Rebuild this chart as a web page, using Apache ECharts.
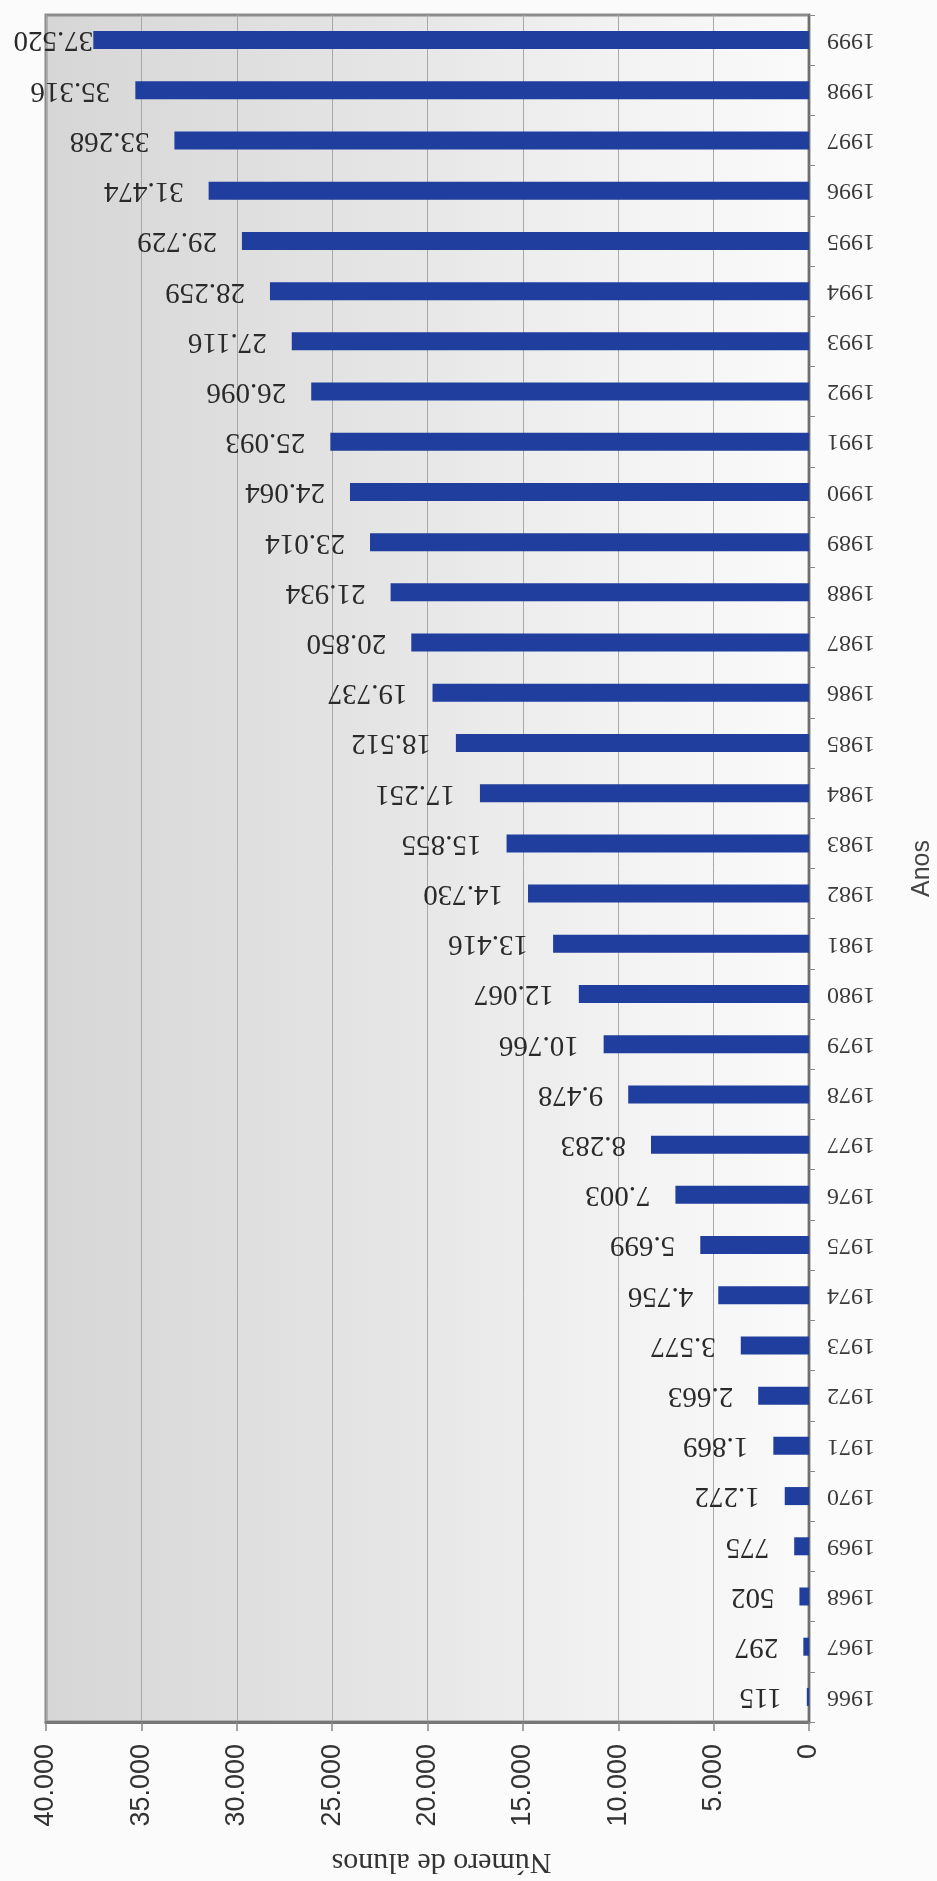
<!DOCTYPE html>
<html>
<head>
<meta charset="utf-8">
<script src="https://cdn.jsdelivr.net/npm/echarts@6/dist/echarts.min.js"></script>
<style>
html,body{margin:0;padding:0;background:#fbfbfb;}
#c{width:937px;height:1881px;}
</style>
</head>
<body>
<div id="c"></div>
<script>
const years = ['1966','1967','1968','1969','1970','1971','1972','1973','1974','1975','1976','1977','1978','1979','1980','1981','1982','1983','1984','1985','1986','1987','1988','1989','1990','1991','1992','1993','1994','1995','1996','1997','1998','1999'];
const alunos = [115,297,502,775,1272,1869,2663,3577,4756,5699,7003,8283,9478,10766,12067,13416,14730,15855,17251,18512,19737,20850,21934,23014,24064,25093,26096,27116,28259,29729,31474,33268,35316,37520];
const valueMin = 0, valueMax = 40000, valueStep = 5000;
const valueAxisTitle = 'Número de alunos';
const categoryAxisTitle = 'Anos';

function fmt(v){ return String(v).replace(/\B(?=(\d{3})+(?!\d))/g, '.'); }

const maxVal = Math.max(...alunos);
// the largest value's label is pulled against its bar so it stays on the page
const barData = alunos.map(v => v === maxVal ? {value: v, label: {distance: 0}} : v);

const chart = echarts.init(document.getElementById('c'), null, {renderer:'canvas'});
chart.setOption({
  animation:false,
  backgroundColor:'#fbfbfb',
  grid:{
    left:46, right:128, top:15, bottom:159,
    outerBoundsMode:'none',
    containLabel:false,
    show:true,
    borderColor:'#8c8c8c', borderWidth:3,
    backgroundColor:new echarts.graphic.LinearGradient(0,0,1,0,[
      {offset:0,color:'#d6d6d6'},
      {offset:0.45,color:'#e5e5e5'},
      {offset:0.75,color:'#f2f2f2'},
      {offset:1,color:'#fafafa'}
    ])
  },
  xAxis:{
    type:'value', inverse:true, position:'bottom',
    min:valueMin, max:valueMax, interval:valueStep,
    axisLine:{show:true, lineStyle:{color:'#777', width:3}},
    axisTick:{show:true, length:9, lineStyle:{color:'#888', width:1.5}},
    splitLine:{show:true, lineStyle:{color:'#a8a8a8', width:1}},
    axisLabel:{
      rotate:90, margin:22,
      fontFamily:'Liberation Sans', fontSize:27, color:'#333',
      formatter:fmt
    },
    name:valueAxisTitle, nameLocation:'middle', nameRotate:180, nameGap:125,
    nameTextStyle:{fontFamily:'Liberation Serif', fontSize:30, color:'#333', padding:[0,28,0,0]}
  },
  yAxis:{
    type:'category', position:'right', data:years,
    axisLine:{show:true, lineStyle:{color:'#6e6e6e', width:2}},
    axisTick:{show:true, length:6, lineStyle:{color:'#8a8a8a'}},
    splitLine:{show:false},
    axisLabel:{
      rotate:180, margin:18,
      fontFamily:'Liberation Serif', fontSize:24, color:'#3a3a3a'
    },
    name:categoryAxisTitle, nameLocation:'middle', nameRotate:90, nameGap:101,
    nameTextStyle:{fontFamily:'Liberation Sans', fontSize:25, color:'#444'}
  },
  series:[{
    type:'bar',
    data:barData,
    barWidth:18,
    itemStyle:{color:'#1f3e9e'},
    label:{
      show:true, position:'left', distance:25,
      rotate:180, align:'left', verticalAlign:'middle',
      fontFamily:'Liberation Serif', fontSize:29, color:'#2a2a2a',
      formatter:p=>fmt(p.value)
    }
  }]
});
</script>
</body>
</html>
